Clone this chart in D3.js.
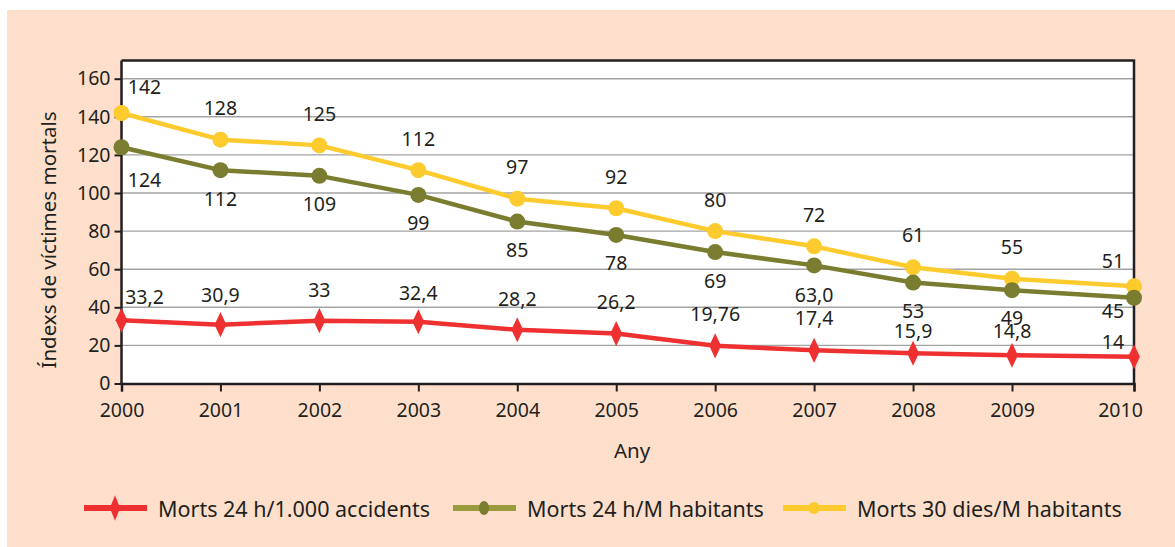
<!DOCTYPE html>
<html>
<head>
<meta charset="utf-8">
<script src="https://cdn.jsdelivr.net/npm/d3@7"></script>
<style>
  html, body { margin: 0; padding: 0; background: #fff; }
  svg { display: block; font-family: "Noto Sans", "Open Sans", sans-serif; }
  .tick text, .lbl, .leg text, .ttl { fill: #231f20; }
</style>
</head>
<body>
<svg id="chart" width="1175" height="547"></svg>
<script>
  // Índexs de víctimes mortals, 2000-2010
  var years = [2000, 2001, 2002, 2003, 2004, 2005, 2006, 2007, 2008, 2009, 2010];
  var accidents = [33.2, 30.9, 33, 32.4, 28.2, 26.2, 19.76, 17.4, 15.9, 14.8, 14];
  var accidentsLbl = ["33,2", "30,9", "33", "32,4", "28,2", "26,2", "19,76", "17,4", "15,9", "14,8", "14"];
  var hab24 = [124, 112, 109, 99, 85, 78, 69, 62, 53, 49, 45];
  var hab24Lbl = ["124", "112", "109", "99", "85", "78", "69", "63,0", "53", "49", "45"];
  var hab30 = [142, 128, 125, 112, 97, 92, 80, 72, 61, 55, 51];
  var hab30Lbl = ["142", "128", "125", "112", "97", "92", "80", "72", "61", "55", "51"];
  var yTicks = [0, 20, 40, 60, 80, 100, 120, 140, 160];
  var seriesNames = ["Morts 24 h/1.000 accidents", "Morts 24 h/M habitants", "Morts 30 dies/M habitants"];

  // label offsets (px) from each point; the red ones get squeezed where the green labels come down
  var dy30 = [-26, -32, -32, -32, -32, -32, -32, -32, -33, -32, -26];
  var dy24 = [32, 28, 28, 28, 28, 28, 28, 29, 28, 27, 13];
  var dyAcc = [-24, -30, -31, -29, -31, -32, -32, -33, -23, -25, -15];

  var L = 121.5, R = 1134, B = 383.5, T = 60.5;
  var svg = d3.select("#chart");
  svg.append("rect").attr("x", 7).attr("y", 10).attr("width", 1168).attr("height", 537).attr("fill", "#fddfcb");
  svg.append("rect").attr("x", L).attr("y", T).attr("width", R - L).attr("height", B - T).attr("fill", "#fff");

  // the last year sits on the right border, so the spacing is uneven there
  var x = d3.scaleLinear().domain([2000, 2009, 2010]).range([L, 1012, R]);
  var y = d3.scaleLinear().domain([0, 160]).range([B, 78.7]);

  svg.append("g").selectAll("line").data(yTicks.slice(1)).enter().append("line")
    .attr("x1", L).attr("x2", R).attr("y1", y).attr("y2", y)
    .attr("stroke", "#a3a3a3").attr("stroke-width", 1.4);

  // frame top + right
  svg.append("path").attr("d", "M" + L + "," + T + "H" + R + "V" + B)
    .attr("fill", "none").attr("stroke", "#231f20").attr("stroke-width", 2.5);

  var yAx = svg.append("g").attr("transform", "translate(" + L + ",0)")
    .call(d3.axisLeft(y).tickValues(yTicks).tickSize(7).tickPadding(4));
  var xAx = svg.append("g").attr("transform", "translate(0," + B + ")")
    .call(d3.axisBottom(x).tickValues(years).tickFormat(d3.format("d")).tickSize(8).tickPadding(12));
  [yAx, xAx].forEach(function (g) {
    g.select(".domain").attr("stroke", "#231f20").attr("stroke-width", 2.5);
    g.selectAll(".tick line").attr("stroke", "#231f20").attr("stroke-width", 2);
    g.selectAll(".tick text").attr("font-size", 19.5).attr("font-family", "Noto Sans");
  });
  yAx.select(".domain").attr("d", "M0," + (B + 1) + "V" + T);
  xAx.selectAll(".tick text").attr("dx", function (d) { return d === 2010 ? -14 : 0; });

  svg.append("text").attr("class", "ttl").attr("transform", "translate(56,240) rotate(-90)")
    .attr("text-anchor", "middle").attr("font-size", 20.5).text("Índexs de víctimes mortals");
  svg.append("text").attr("class", "ttl").attr("x", 632).attr("y", 458)
    .attr("text-anchor", "middle").attr("font-size", 20.5).text("Any");

  var series = [
    { vals: hab30, lbl: hab30Lbl, dy: dy30, color: "#fdcb2e", shape: "circle" },
    { vals: hab24, lbl: hab24Lbl, dy: dy24, color: "#7a7d2f", shape: "circle" },
    { vals: accidents, lbl: accidentsLbl, dy: dyAcc, color: "#ee3130", shape: "diamond" }
  ];
  var line = d3.line().x(function (d, i) { return x(years[i]); }).y(function (d) { return y(d); });
  var diamond = d3.symbol().type(d3.symbolDiamond).size(150);

  series.forEach(function (s) {
    var g = svg.append("g");
    g.append("path").datum(s.vals).attr("d", line).attr("fill", "none")
      .attr("stroke", s.color).attr("stroke-width", 4.5).attr("stroke-linejoin", "round");
    if (s.shape === "circle") {
      g.selectAll("circle").data(s.vals).enter().append("circle")
        .attr("cx", function (d, i) { return x(years[i]); }).attr("cy", y).attr("r", 8).attr("fill", s.color);
    } else {
      g.selectAll("path.m").data(s.vals).enter().append("path").attr("class", "m")
        .attr("d", diamond).attr("fill", s.color)
        .attr("transform", function (d, i) { return "translate(" + x(years[i]) + "," + y(d) + ") scale(0.9,1.1)"; });
    }
  });

  // data labels, drawn after all lines so they sit on top
  series.forEach(function (s) {
    var n = s.vals.length;
    svg.append("g").selectAll("text").data(s.vals).enter().append("text").attr("class", "lbl")
      .attr("text-anchor", "middle").attr("dominant-baseline", "central").attr("font-size", 19.5)
      .attr("x", function (d, i) { return x(years[i]) + (i === 0 ? 23 : i === n - 1 ? -21 : 0); })
      .attr("y", function (d, i) { return y(d) + s.dy[i]; })
      .text(function (d, i) { return s.lbl[i]; });
  });

  // legend
  var legX = [84, 453, 783], legColors = ["#ee3130", "#989a3b", "#fdcb2e"], legDot = ["#ee3130", "#7a7d2f", "#fdcb2e"];
  var leg = svg.append("g").attr("class", "leg").selectAll("g").data(seriesNames).enter().append("g")
    .attr("transform", function (d, i) { return "translate(" + legX[i] + ",508)"; });
  leg.append("line").attr("x1", 0).attr("x2", 63).attr("stroke", function (d, i) { return legColors[i]; }).attr("stroke-width", 6);
  leg.append("path").attr("d", function (d, i) {
      return i === 0 ? d3.symbol().type(d3.symbolDiamond).size(110)() : d3.symbol().type(d3.symbolCircle).size(110)();
    })
    .attr("transform", function (d, i) { return "translate(31,0) scale(" + (i === 0 ? "0.9,1.3" : i === 1 ? "0.85,1.2" : "1,1") + ")"; })
    .attr("fill", function (d, i) { return legDot[i]; });
  leg.append("text").attr("x", 74).attr("dominant-baseline", "central").attr("font-size", 21.5).text(function (d) { return d; });
</script>
</body>
</html>
